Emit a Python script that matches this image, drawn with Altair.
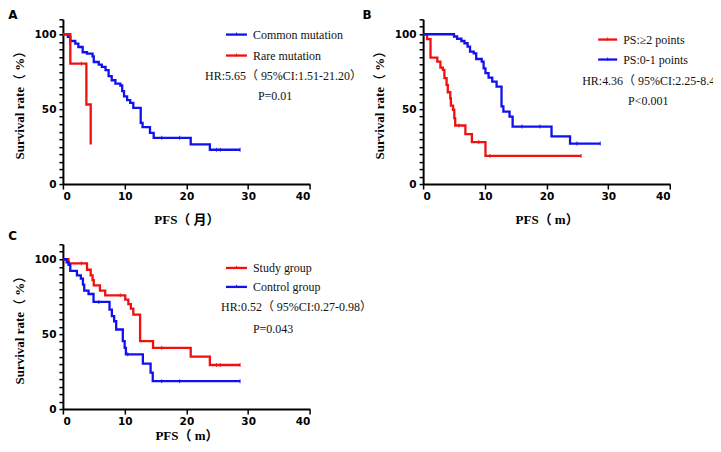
import altair as alt
import pandas as pd

# ---------------- data ----------------
# Panel A
a_common_t = [0, 0.8, 1.2, 2.0, 2.5, 3.2, 3.9, 4.8, 5.0, 5.8, 6.3, 6.9, 7.4, 7.9, 8.5, 9.3, 9.6, 9.9, 10.4, 10.9, 11.4, 12.6, 12.9, 14.1, 14.7, 20.7, 23.8, 28.7]
a_common_s = [100, 98.2, 95.5, 93.8, 91.5, 88.0, 87.1, 85.3, 81.5, 79.8, 78.2, 76.0, 72.0, 69.3, 67.1, 65.8, 62.0, 58.6, 56.0, 54.2, 50.9, 40.9, 38.0, 34.2, 30.9, 26.5, 22.9, 22.9]
a_common_cens_t = [16.0, 18.9, 24.9, 25.5, 28.7]
a_common_cens_s = [30.9, 30.9, 22.9, 22.9, 22.9]
a_rare_t = [0, 1.2, 3.8, 4.5]
a_rare_s = [100, 80.4, 53.1, 26.4]
a_rare_cens_t = [3.0]
a_rare_cens_s = [80.4]

# Panel B
b_good_t = [0, 5.0, 5.5, 6.2, 6.7, 7.2, 7.6, 8.2, 8.6, 9.5, 9.8, 10.1, 10.6, 11.2, 11.9, 12.7, 13.0, 14.0, 14.5, 20.8, 23.8, 28.7]
b_good_s = [100, 98.5, 97.0, 95.5, 94.0, 91.8, 88.4, 87.2, 83.5, 81.8, 77.3, 74.0, 71.0, 68.4, 65.0, 51.8, 48.4, 45.0, 38.4, 31.8, 27.0, 27.0]
b_good_cens_t = [16.0, 18.9, 24.9, 28.7]
b_good_cens_s = [38.4, 38.4, 27.0, 27.0]
b_poor_t = [0, 0.65, 1.2, 2.3, 2.8, 3.2, 3.45, 3.8, 4.0, 4.4, 4.5, 4.85, 5.05, 5.2, 6.85, 7.9, 10.1, 25.6]
b_poor_s = [100, 96.8, 84.4, 81.8, 77.8, 76.2, 70.7, 66.2, 61.3, 57.3, 52.4, 49.6, 44.0, 39.1, 33.3, 28.0, 18.8, 18.8]
b_poor_cens_t = [5.8, 9.0, 10.8, 25.6]
b_poor_cens_s = [39.1, 28.0, 18.8, 18.8]

# Panel C
c_study_t = [0, 0.9, 3.9, 4.5, 4.8, 5.0, 6.0, 6.85, 10.1, 10.6, 11.0, 11.4, 12.5, 14.6, 20.7, 23.8, 28.7]
c_study_s = [100, 97.3, 93.0, 89.2, 86.0, 82.5, 79.0, 75.9, 73.0, 70.1, 67.1, 63.1, 45.4, 40.9, 35.0, 29.4, 29.4]
c_study_cens_t = [3.0, 9.3, 16.0, 24.9, 25.5, 28.7]
c_study_cens_s = [97.3, 75.9, 40.9, 29.4, 29.4, 29.4]
c_ctrl_t = [0, 0.6, 0.92, 1.19, 2.27, 2.9, 3.24, 3.45, 4.15, 4.96, 7.55, 7.93, 8.3, 8.63, 9.7, 10.0, 10.2, 12.95, 14.2, 14.55, 28.7]
c_ctrl_s = [100, 98.0, 96.3, 92.3, 89.2, 87.0, 83.0, 79.0, 76.8, 71.5, 66.4, 62.0, 58.6, 53.1, 45.4, 40.9, 36.5, 30.3, 24.3, 18.6, 18.6]
c_ctrl_cens_t = [5.8, 10.5, 16.0, 18.9, 28.7]
c_ctrl_cens_s = [71.5, 36.5, 18.6, 18.6, 18.6]

x_ticks = [0, 10, 20, 30, 40]
y_ticks = list(range(0, 111, 5))

BLUE = "#1010f0"
RED = "#f01010"
SERIF = "Liberation Serif, Noto Sans CJK SC"
SANS = "DejaVu Sans"

W = 247.3
H = 165


def y_enc():
    return alt.Y("s:Q", scale=alt.Scale(domain=[0, 110], nice=False),
                 axis=alt.Axis(values=y_ticks, title="Survival rate（ %）", grid=False,
                               labelExpr="datum.value % 50 == 0 ? datum.label : ''"))


def annot(items, hr, hr_xy, p, p_xy, letter, letter_xy):
    dummy = pd.DataFrame({"d": [0]})
    layers = []
    for (label, color, lx1, lx2, ly) in items:
        layers.append(alt.Chart(dummy).mark_rule(color=color, strokeWidth=2.3).encode(
            x=alt.value(lx1), x2=alt.value(lx2), y=alt.value(ly)))
        layers.append(alt.Chart(dummy).mark_rule(color=color, strokeWidth=1).encode(
            x=alt.value((lx1 + lx2) / 2), y=alt.value(ly - 2), y2=alt.value(ly + 1)))
        layers.append(alt.Chart(dummy).mark_text(text=label, font=SERIF, fontSize=12, align="left",
                                                 baseline="middle", color="#111").encode(
            x=alt.value(lx2 + 6), y=alt.value(ly)))
    layers.append(alt.Chart(dummy).mark_text(text=hr, font=SERIF, fontSize=12, align="left",
                                             baseline="middle", color="#111").encode(
        x=alt.value(hr_xy[0]), y=alt.value(hr_xy[1])))
    layers.append(alt.Chart(dummy).mark_text(text=p, font=SERIF, fontSize=12, align="left",
                                             baseline="middle", color="#111").encode(
        x=alt.value(p_xy[0]), y=alt.value(p_xy[1])))
    layers.append(alt.Chart(dummy).mark_text(text=letter, font=SANS, fontSize=12, fontWeight="bold",
                                             align="left", baseline="top", color="#000").encode(
        x=alt.value(letter_xy[0]), y=alt.value(letter_xy[1])))
    return layers


def build(series, items, hr, hr_xy, p, p_xy, letter, letter_xy, xtitle, xtitle_pad):
    layers = []
    for sdef in series:
        t, s, ct, cs, color = sdef
        df = pd.DataFrame({"t": t, "s": s})
        dc = pd.DataFrame({"t": ct, "s": cs})
        xe = alt.X("t:Q", scale=alt.Scale(domain=[0, 40], nice=False),
                   axis=alt.Axis(values=x_ticks, title=xtitle, grid=False, titlePadding=xtitle_pad))
        ye = y_enc()
        layers.append(alt.Chart(df).mark_line(interpolate="step-after", color=color, strokeWidth=2.3)
                      .encode(x=xe, y=ye))
        layers.append(alt.Chart(dc).mark_tick(orient="vertical", color=color, size=4, thickness=1.2)
                      .encode(x=xe, y=ye))
    layers += annot(items, hr, hr_xy, p, p_xy, letter, letter_xy)
    return alt.layer(*layers).properties(width=W, height=H)


A = build(
    [(a_common_t, a_common_s, a_common_cens_t, a_common_cens_s, BLUE),
     (a_rare_t, a_rare_s, a_rare_cens_t, a_rare_cens_s, RED)],
    [("Common mutation", BLUE, 163.3, 184.3, 15.3), ("Rare mutation", RED, 163.3, 184.3, 36.3)],
    "HR:5.65（ 95%CI:1.51-21.20）", (142.3, 56.3), "P=0.01", (195.3, 77.3),
    "A", (-54.7, -9.7), "PFS（ 月）", 12)

B = build(
    [(b_poor_t, b_poor_s, b_poor_cens_t, b_poor_cens_s, RED),
     (b_good_t, b_good_s, b_good_cens_t, b_good_cens_s, BLUE)],
    [("PS:≥2 points", RED, 175.3, 194.3, 20.3), ("PS:0-1 points", BLUE, 175.3, 194.3, 40.3)],
    "HR:4.36（ 95%CI:2.25-8.44）", (159.3, 61.3), "P<0.001", (205.3, 82.3),
    "B", (-60.7, -9.7), "PFS（ m）", 12)

C = build(
    [(c_study_t, c_study_s, c_study_cens_t, c_study_cens_s, RED),
     (c_ctrl_t, c_ctrl_s, c_ctrl_cens_t, c_ctrl_cens_s, BLUE)],
    [("Study group", RED, 163.3, 184.3, 23.7), ("Control group", BLUE, 163.3, 184.3, 42.7)],
    "HR:0.52（ 95%CI:0.27-0.98）", (158.3, 63.0), "P=0.043", (190.3, 84.7),
    "C", (-54.7, -13.0), "PFS（ m）", 3)

chart = alt.concat(A, B, C, columns=2, spacing={"row": 60.3, "column": 112.7}, bounds="flush").properties(
    padding={"left": 0, "top": 0, "right": -21, "bottom": 2}
).configure_view(stroke=None).configure_axis(
    domainColor="#000", domainWidth=2, tickColor="#000", tickWidth=1.5,
    labelFont=SANS, labelFontWeight="bold", labelFontSize=10.5, labelColor="#000",
    titleFont=SERIF, titleFontWeight="bold", titleFontSize=13, titleColor="#000",
).configure_axisX(tickSize=5, labelPadding=2
).configure_axisY(tickSize=4, labelPadding=3, titlePadding=8)

chart.save("out.html", embed_options={"renderer": "svg", "actions": False})
